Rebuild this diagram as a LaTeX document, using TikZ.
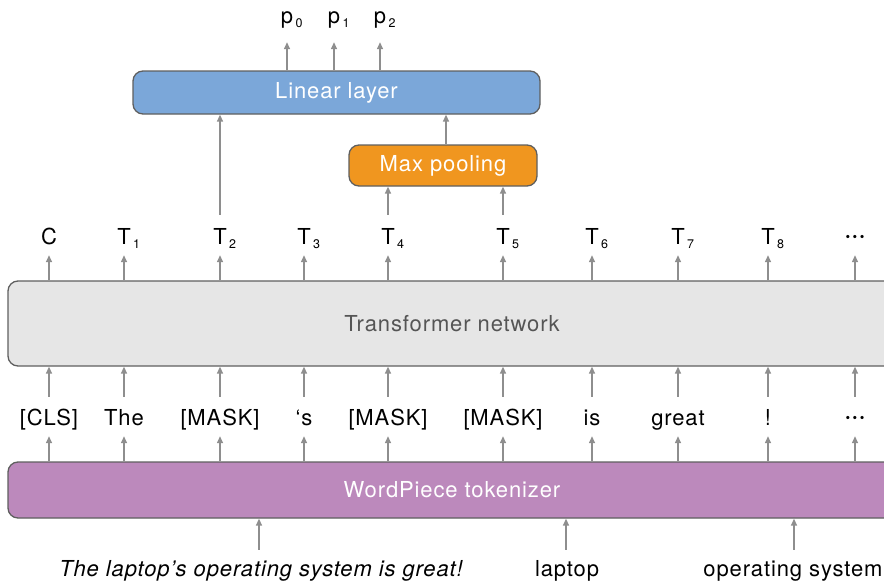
\documentclass[tikz,border=0pt]{standalone}
\usepackage{fontspec}
\setmainfont{TeX Gyre Heros}[LetterSpace=4]
\usetikzlibrary{arrows.meta}

\definecolor{linblue}{HTML}{7BA7D9}
\definecolor{poolorange}{HTML}{F0961F}
\definecolor{tfgray}{HTML}{E6E6E6}
\definecolor{tokpurple}{HTML}{BC89BC}
\definecolor{edgegray}{HTML}{5F5F5F}
\definecolor{arrowgray}{HTML}{8E8E8E}
\definecolor{tftext}{HTML}{555555}

% subscript that takes no width, so the main letter stays centred on its arrow
\newcommand\lowsub[1]{\rlap{\kern2.5pt\raisebox{-4.5pt}{\fontsize{12.5}{13}\selectfont #1}}}
% three heavy middle dots, widely spaced
\newcommand\moredots{{\bfseries\raisebox{1.5pt}{·\kern1pt·\kern1pt·}}}

\begin{document}
\begin{tikzpicture}[x=1pt,y=-1pt,
  font=\fontsize{22}{26}\selectfont,
  box/.style={draw=edgegray, line width=1.3pt, rounded corners=10pt, inner sep=0pt},
  arr/.style={draw=arrowgray, line width=1.4pt, -{Triangle[length=7pt,width=6pt]}},
  trow/.style={inner xsep=0pt, inner ysep=6pt, text height=23pt, text depth=5pt},
  wrow/.style={inner xsep=0pt, inner ysep=6pt, text height=22pt, text depth=5pt},
  prow/.style={inner xsep=0pt, inner ysep=0pt, text height=15pt, text depth=19pt},
  brow/.style={inner xsep=0pt, inner ysep=0pt, text height=26pt, text depth=5pt},
]
\clip (0,0) rectangle (884,584);

% boxes
\node[box, fill=linblue, text=white, minimum width=407pt, minimum height=43pt] (lin) at (336.5,92.5) {Linear layer};
\node[box, fill=poolorange, text=white, minimum width=188pt, minimum height=41pt] (pool) at (443,165.5) {Max pooling};
\node[box, fill=tfgray, text=tftext, minimum width=888pt, minimum height=85pt] (tf) at (452,323.5) {Transformer network};
\node[box, fill=tokpurple, text=white, minimum width=888pt, minimum height=56pt] (tok) at (452,490) {WordPiece tokenizer};

% output probabilities
\node[prow, anchor=base] (p0) at (287,23) {p\lowsub{0}};
\node[prow, anchor=base] (p1) at (334,23) {p\lowsub{1}};
\node[prow, anchor=base] (p2) at (380,23) {p\lowsub{2}};

% transformer outputs
\node[trow, anchor=base] (tC) at (49,244) {C};
\node[trow, anchor=base] (t1) at (124,244) {T\lowsub{1}};
\node[trow, anchor=base] (t2) at (220,244) {T\lowsub{2}};
\node[trow, anchor=base] (t3) at (304,244) {T\lowsub{3}};
\node[trow, anchor=base] (t4) at (388,244) {T\lowsub{4}};
\node[trow, anchor=base] (t5) at (503,244) {T\lowsub{5}};
\node[trow, anchor=base] (t6) at (592,244) {T\lowsub{6}};
\node[trow, anchor=base] (t7) at (678,244) {T\lowsub{7}};
\node[trow, anchor=base] (t8) at (768,244) {T\lowsub{8}};
\node[trow, anchor=base] (t9) at (855,244) {\moredots};

% word pieces
\node[wrow, anchor=base] (wC) at (49,425) {[CLS]};
\node[wrow, anchor=base] (w1) at (124,425) {The};
\node[wrow, anchor=base] (w2) at (220,425) {[MASK]};
\node[wrow, anchor=base] (w3) at (304,425) {‘s};
\node[wrow, anchor=base] (w4) at (388,425) {[MASK]};
\node[wrow, anchor=base] (w5) at (503,425) {[MASK]};
\node[wrow, anchor=base] (w6) at (592,425) {is};
\node[wrow, anchor=base] (w7) at (678,425) {great};
\node[wrow, anchor=base] (w8) at (768,425) {!};
\node[wrow, anchor=base] (w9) at (855,425) {\moredots};

% inputs
\node[brow, anchor=base] (sent) at (261,576) {\itshape The laptop’s operating system is great!};
\node[brow, anchor=base] (asp1) at (567,576) {laptop};
\node[brow, anchor=base] (asp2) at (793,576) {operating system};

% connectors
\foreach \p in {p0,p1,p2} \draw[arr] (lin.north -| \p) -- (\p.south);
\draw[arr] (t2.north) -- (lin.south -| t2);
\draw[arr] (pool.north -| 446,0) -- (lin.south -| 446,0);
\draw[arr] (t4.north) -- (pool.south -| t4);
\draw[arr] (t5.north) -- (pool.south -| t5);
\foreach \t in {tC,t1,t2,t3,t4,t5,t6,t7,t8,t9} \draw[arr] (tf.north -| \t) -- (\t.south);
\foreach \w in {wC,w1,w2,w3,w4,w5,w6,w7,w8,w9} {
  \draw[arr] (\w.north) -- (tf.south -| \w);
  \draw[arr] (tok.north -| \w) -- (\w.south);
}
\draw[arr] (sent.north -| 259,0) -- (tok.south -| 259,0);
\draw[arr] (asp1.north -| 566,0) -- (tok.south -| 566,0);
\draw[arr] (asp2.north -| 794,0) -- (tok.south -| 794,0);
\end{tikzpicture}
\end{document}
